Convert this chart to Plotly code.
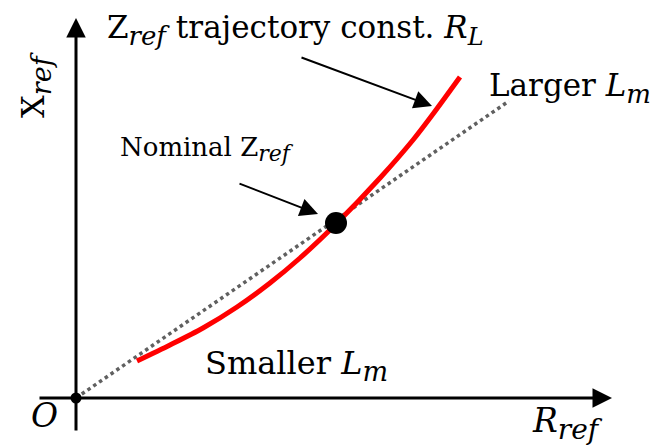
import plotly.graph_objects as go

# Impedance trajectory Z_ref for constant R_L (R_ref, X_ref in arbitrary units)
traj_r = [0.61, 0.94, 1.27, 1.61, 1.94, 2.24, 2.60, 3.04, 3.37, 3.57, 3.84]
traj_x = [0.37, 0.53, 0.70, 0.91, 1.15, 1.40, 1.74, 2.20, 2.58, 2.84, 3.21]

# Straight reference line from the origin through the nominal point
ref_r = [0.0, 4.33]
ref_x = [0.0, 2.97]

# Nominal operating point and origin
nominal_r = [2.60]
nominal_x = [1.75]
origin_r = [0.0]
origin_x = [0.0]

FONT = "DejaVu Serif"

fig = go.Figure()

fig.add_trace(go.Scatter(
    x=ref_r, y=ref_x, mode="lines",
    line=dict(color="#606060", width=3.5, dash="dot"),
    hoverinfo="skip",
))
fig.add_trace(go.Scatter(
    x=traj_r, y=traj_x, mode="lines",
    line=dict(color="#ff0000", width=5, shape="spline", smoothing=0.8),
    hoverinfo="skip",
))
fig.add_trace(go.Scatter(
    x=nominal_r, y=nominal_x, mode="markers",
    marker=dict(color="black", size=22),
    hoverinfo="skip",
))
fig.add_trace(go.Scatter(
    x=origin_r, y=origin_x, mode="markers",
    marker=dict(color="black", size=11),
    hoverinfo="skip",
))


def arrow(x0, y0, x1, y1, width, size):
    fig.add_annotation(
        x=x1, y=y1, ax=x0, ay=y0,
        xref="x", yref="y", axref="x", ayref="y",
        text="", showarrow=True, arrowhead=2,
        arrowwidth=width, arrowsize=size, arrowcolor="black",
        standoff=0, startstandoff=0,
    )


# Coordinate axes
arrow(-0.38, 0.0, 5.36, 0.0, 3, 1.3)
arrow(0.0, -0.34, 0.0, 3.80, 3, 1.3)

# Pointer arrows
arrow(2.24, 3.41, 3.56, 2.92, 2, 1.8)
arrow(1.62, 2.15, 2.42, 1.84, 2, 1.8)


def sub(text, px):
    """Italic subscript drawn at an explicit pixel size."""
    return f'<sub><span style="font-size:{px}px"><i>{text}</i></span></sub>'


def label(x, y, text, size, xanchor="left", angle=0):
    fig.add_annotation(
        x=x, y=y, xref="x", yref="y", text=text, showarrow=False,
        xanchor=xanchor, yanchor="middle", textangle=angle,
        font=dict(family=FONT, size=size, color="black"),
    )


label(0.29, 3.68, "Z" + sub("ref", 26) + " trajectory const. <i>R</i>" + sub("L", 24), 31)
label(4.11, 3.10, "Larger <i>L</i>" + sub("m", 26), 31)
label(0.42, 2.49, "Nominal Z" + sub("ref", 22), 26)
label(1.27, 0.33, "Smaller <i>L</i>" + sub("m", 27), 32)
label(-0.32, -0.17, "<i>O</i>", 33, xanchor="center")
label(4.54, -0.25, "<i>R</i>" + sub("ref", 28), 33)
label(-0.41, 3.13, "X" + sub("ref", 27), 32, xanchor="center", angle=-90)

fig.update_layout(
    width=652, height=448,
    margin=dict(l=0, r=0, t=0, b=0),
    paper_bgcolor="white", plot_bgcolor="white",
    showlegend=False,
    xaxis=dict(range=[-0.76, 5.76], visible=False, fixedrange=True),
    yaxis=dict(range=[-0.50, 3.98], visible=False, fixedrange=True),
)

fig.write_html("out.html")
